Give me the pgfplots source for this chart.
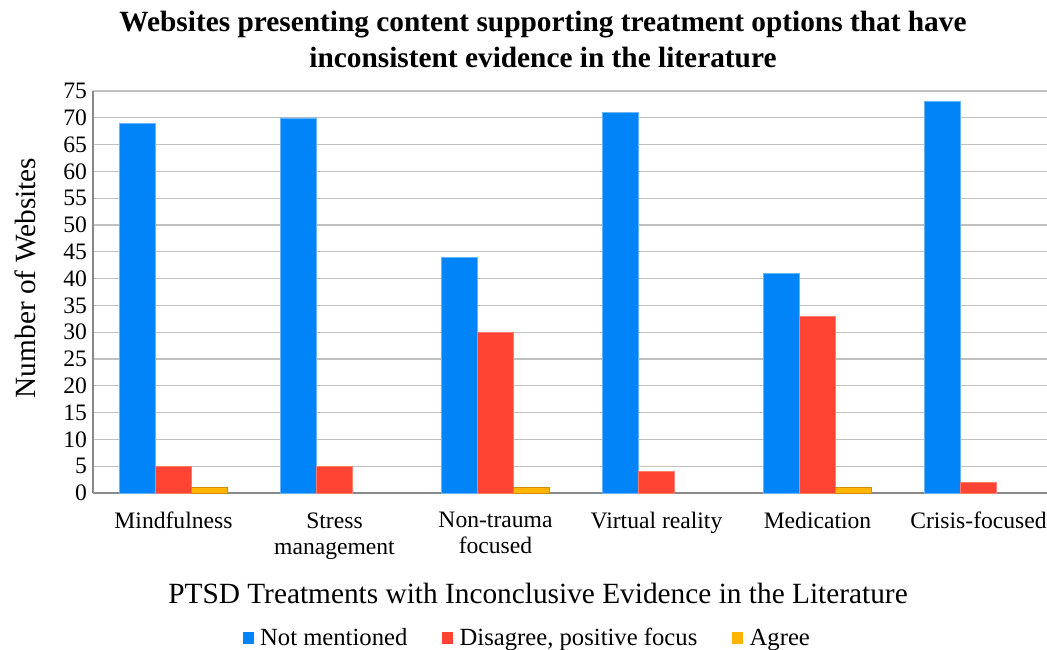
\documentclass[border=0pt]{standalone}
\usepackage{fontspec}
\setmainfont{Liberation Serif}
\usepackage{pgfplots}
\pgfplotsset{compat=1.18}
\definecolor{cblue}{RGB}{0,132,248}
\definecolor{cred}{RGB}{255,68,51}
\definecolor{cyel}{RGB}{255,180,0}
\definecolor{axgray}{RGB}{137,137,137}
\definecolor{gridgray}{RGB}{192,192,192}
\begin{document}
\begin{tikzpicture}
\useasboundingbox (-69.75pt,-117.75pt) rectangle (715.5pt,369.75pt);
\begin{axis}[
  at={(0,0)}, anchor=south west,
  scale only axis,
  width=715.5pt, height=301.5pt,
  xmin=-0.5, xmax=5.4255,
  ymin=0, ymax=75,
  ytick={0,5,...,75},
  xtick={0,1,2,3,4,5},
  xticklabels={Mindfulness,{Stress\\management},{Non-trauma\\focused},Virtual reality,Medication,Crisis-focused},
  xticklabel style={align=center, font=\fontsize{17.7}{19.5}\selectfont, yshift=-11pt},
  yticklabel style={font=\fontsize{17.7}{19}\selectfont, xshift=-1pt},
  /pgf/number format/assume math mode=true,
  major tick length=0pt,
  axis x line*=bottom, axis y line*=left,
  axis line style={axgray, line width=1.2pt},
  x axis line style={-}, y axis line style={-},
  ymajorgrids, grid style={gridgray, line width=0.9pt},
  ybar=0pt, bar width=0.2236,
  legend columns=3,
  legend style={draw=none, fill=none, font=\fontsize{18.5}{20}\selectfont,
    at={(0.4555,-0.3607)}, anchor=center,
    /tikz/every even column/.append style={column sep=24pt}},
  legend image code/.code={\fill[#1, draw=none] (0pt,-4.2pt) rectangle (8.4pt,4.2pt); \path[draw=none] (0pt,0pt) -- (11.2pt,0pt);},
  clip=false,
]
\addplot[fill=cblue, draw=cblue!60!white, line width=0.4pt] coordinates {(0,69) (1,70) (2,44) (3,71) (4,41) (5,73)};
\addplot[fill=cred, draw=cred!70!white, line width=0.4pt] coordinates {(0,5) (1,5) (2,30) (3,4) (4,33) (5,2)};
\addplot[fill=cyel, draw=cyel!80!black, line width=0.4pt] coordinates {(0,1) (2,1) (4,1)};
\legend{Not mentioned, {Disagree, positive focus}, Agree}
\end{axis}
\node[font=\bfseries\fontsize{22}{27}\selectfont, align=center] at (337.5pt,339.75pt) {Websites presenting content supporting treatment options that have\\inconsistent evidence in the literature};
\node[rotate=90, font=\fontsize{22}{24}\selectfont] at (-51pt,161.25pt) {Number of Websites};
\node[font=\fontsize{22}{24}\selectfont] at (333.75pt,-75pt) {PTSD Treatments with Inconclusive Evidence in the Literature};
\end{tikzpicture}
\end{document}
